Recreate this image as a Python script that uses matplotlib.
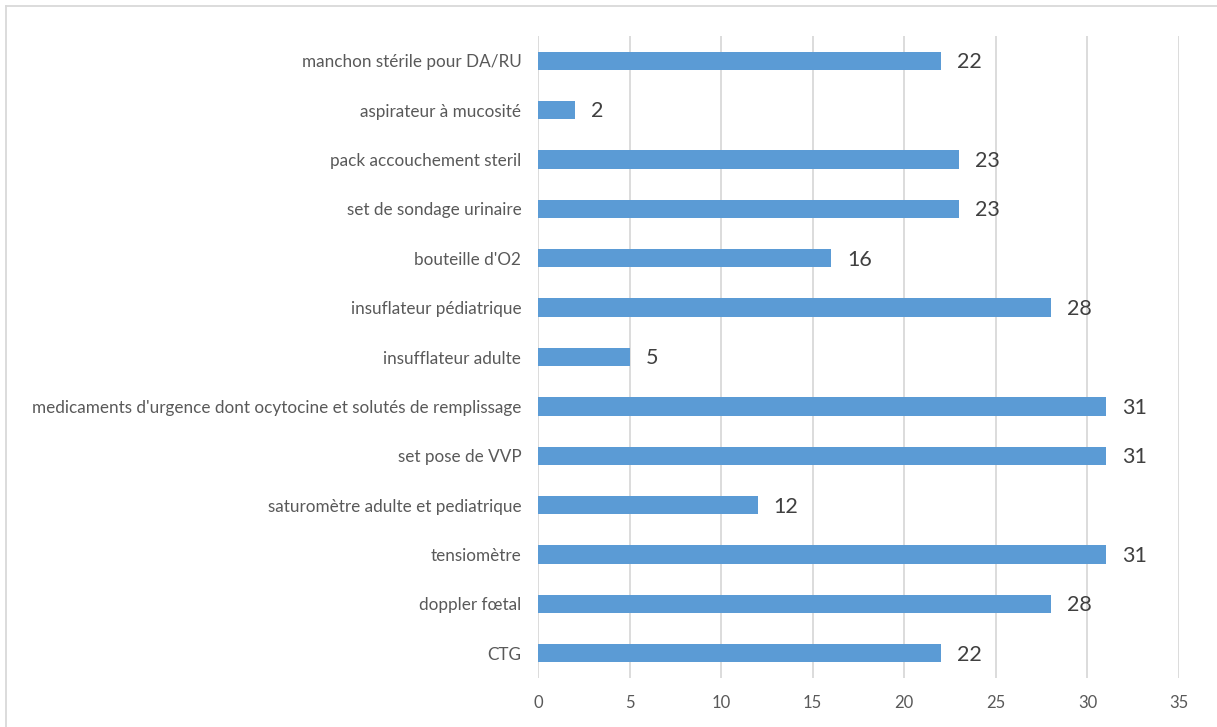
import matplotlib
matplotlib.use('Agg')
from matplotlib import rc, pyplot as plt
from matplotlib.lines import Line2D

rc('font', family = ['Lato', 'DejaVu Sans'])

# Données (de haut en bas dans le graphique)
categories = ["manchon stérile pour DA/RU",
              "aspirateur à mucosité",
              "pack accouchement steril",
              "set de sondage urinaire",
              "bouteille d'O2",
              "insuflateur pédiatrique",
              "insufflateur adulte",
              "medicaments d'urgence dont ocytocine et solutés de remplissage",
              "set pose de VVP",
              "saturomètre adulte et pediatrique",
              "tensiomètre",
              "doppler fœtal",
              "CTG"]
valeurs = [22, 2, 23, 23, 16, 28, 5, 31, 31, 12, 31, 28, 22]
ticks_x = [0, 5, 10, 15, 20, 25, 30, 35]

fig = plt.figure(figsize = (12.17, 7.27), dpi = 100)
ax = fig.add_axes([538 / 1217, 1 - 678 / 727, (1179 - 538) / 1217, (678 - 36) / 727])

pos = list(range(len(categories)))[::-1]
ax.barh(pos, valeurs, height = 0.37, color = '#5B9BD5', zorder = 3)
for p, v in zip(pos, valeurs):
    ax.annotate(str(v), xy = (v, p), xytext = (11.5, -1), textcoords = 'offset points',
                va = 'center', ha = 'left', fontsize = 15.5, color = '#404040')

ax.set_xlim(0, 35)
ax.set_ylim(-0.5, len(categories) - 0.5)
ax.set_xticks(ticks_x)
ax.set_yticks(pos)
ax.set_yticklabels(categories, fontsize = 12.3, color = '#595959')
ax.tick_params(axis = 'x', labelsize = 12, labelcolor = '#595959', length = 0, pad = 12)
ax.tick_params(axis = 'y', length = 0, pad = 12)
ax.grid(axis = 'x', color = '#D9D9D9', linewidth = 1.3, zorder = 0)
ax.grid(axis = 'y', visible = False)
for s in ax.spines.values():
    s.set_visible(False)

# cadre du graphique (seulement haut et gauche visibles)
fig.add_artist(Line2D([6 / 1217, 6 / 1217], [0, 1 - 6 / 727], transform = fig.transFigure, color = '#D9D9D9', lw = 1.3))
fig.add_artist(Line2D([6 / 1217, 1], [1 - 6 / 727, 1 - 6 / 727], transform = fig.transFigure, color = '#D9D9D9', lw = 1.3))

plt.savefig('out.png', dpi = 100)
